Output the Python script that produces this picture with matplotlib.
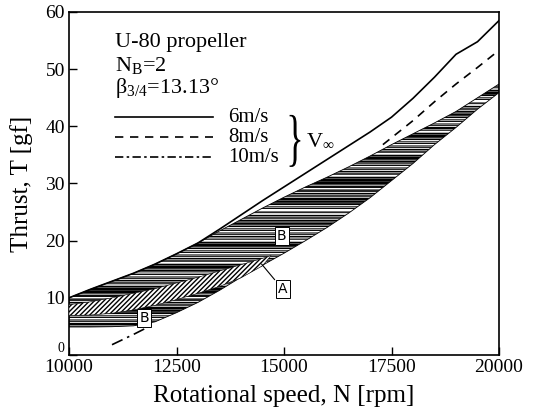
import numpy as np
import matplotlib
matplotlib.use("Agg")
import matplotlib.pyplot as plt
from matplotlib.patches import Polygon, PathPatch
from matplotlib.textpath import TextPath
from matplotlib.font_manager import FontProperties
from matplotlib.transforms import Affine2D, IdentityTransform

plt.rcParams['font.family'] = ['Liberation Serif', 'DejaVu Serif']
plt.rcParams['mathtext.fontset'] = 'custom'
plt.rcParams['mathtext.rm'] = 'Liberation Serif'
plt.rcParams['mathtext.it'] = 'Liberation Serif:italic'
plt.rcParams['hatch.linewidth'] = 1.0

# ---- data ----
n_solid = [10000, 10500, 11000, 11500, 12000, 12500, 13000, 13500, 14000, 14500, 15000,
           15500, 16000, 16500, 17000, 17500, 18000, 18500, 19000, 19500, 20000]
t_solid = [10.0, 11.5, 12.9, 14.3, 15.9, 17.7, 19.6, 22.0, 24.5, 27.0, 29.4,
           31.8, 34.2, 36.6, 39.0, 41.6, 44.9, 48.6, 52.6, 54.8, 58.5]

n_dash = [17300, 17500, 18000, 18500, 19000, 19500, 20000]
t_dash = [36.8, 38.0, 41.0, 44.3, 47.4, 50.3, 53.3]

n_dashdot = [11000, 11500, 12000]
t_dashdot = [1.8, 3.6, 5.5]

n_band = [10000, 10500, 11000, 11500, 12000, 12500, 13000, 13500, 14000, 14500, 15000,
          15500, 16000, 16500, 17000, 17500, 18000, 18500, 19000, 19500, 20000]
t_band_top = [10.0, 11.5, 12.9, 14.3, 15.9, 17.7, 19.6, 21.7, 23.7, 25.7, 27.6,
              29.4, 31.1, 32.9, 34.8, 36.8, 38.7, 40.6, 42.6, 45.0, 47.4]
t_band_bot = [4.9, 4.9, 4.95, 5.1, 5.8, 7.4, 9.2, 11.3, 13.6, 15.7, 17.8,
              20.0, 22.3, 24.8, 27.5, 30.5, 33.5, 36.8, 39.8, 43.0, 45.9]

n_a = [10000, 10500, 11000, 11500, 12000, 12500, 13000, 13500, 14000, 14500, 14700]
t_a_top = [8.8, 9.3, 10.0, 10.8, 11.6, 12.6, 13.6, 14.7, 15.8, 16.9, 17.4]
t_a_bot = [6.9, 7.0, 7.3, 7.9, 8.7, 9.7, 10.8, 12.0, 13.5, 15.6, 17.4]

x_ticks = [10000, 12500, 15000, 17500, 20000]
y_ticks = [0, 10, 20, 30, 40, 50, 60]

# ---- figure ----
fig = plt.figure(figsize=(5.37, 4.15), dpi=100)
ax = fig.add_axes([69/537, 60/415, 430/537, 343/415])
ax.set_xlim(10000, 20000)
ax.set_ylim(0, 60)

# striped band B (scan-like horizontal stripes of mixed greys)
band_xy = list(zip(n_band, t_band_top)) + list(zip(n_band[::-1], t_band_bot[::-1]))
ax.add_patch(Polygon(band_xy, closed=True, facecolor='none', edgecolor='black', lw=0.6, zorder=3))
stripe_pattern = [(0.0, 3), (0.35, 2), (0.0, 2), (0.72, 2), (1.0, 1), (0.25, 3), (0.55, 2),
                  (0.0, 2), (0.85, 2), (0.15, 2), (0.45, 3), (1.0, 2), (0.05, 2), (0.62, 2),
                  (0.3, 2), (0.92, 1), (0.0, 2), (0.5, 1), (0.2, 2)]
seq = []
for lev, cnt in stripe_pattern:
    seq += [lev] * cnt
nrows = 600
rows = np.array([seq[i % len(seq)] for i in range(nrows)])
img = np.tile(rows[:, None], (1, 4))
im = ax.imshow(img, extent=[10000, 20000, 0, 60], origin='lower', aspect='auto',
               cmap='gray', vmin=0, vmax=1, interpolation='nearest', zorder=2)
im.set_clip_path(Polygon(band_xy, closed=True, transform=ax.transData))

# hatched region A
a_xy = list(zip(n_a, t_a_top)) + list(zip(n_a[::-1], t_a_bot[::-1]))
ax.add_patch(Polygon(a_xy, closed=True, facecolor='white', edgecolor='black',
                     hatch='///////', lw=0.4, zorder=4))

# lines
ax.plot(n_solid, t_solid, color='black', lw=1.2, zorder=5)
ax.plot(n_dash, t_dash, color='black', lw=1.2, ls=(0, (5, 4)), zorder=5)
ax.plot(n_dashdot, t_dashdot, color='black', lw=1.2, ls=(0, (7, 3, 1.5, 3)), zorder=5)

# labels B / A
box = dict(boxstyle='square,pad=0.15', facecolor='white', edgecolor='black', lw=0.7)
ax.text(11745, 6.5, 'B', family='DejaVu Sans', fontsize=10, ha='center', va='center', bbox=box, zorder=7)
ax.text(14950, 20.8, 'B', family='DejaVu Sans', fontsize=10, ha='center', va='center', bbox=box, zorder=7)
ax.text(14970, 11.6, 'A', family='DejaVu Sans', fontsize=10, ha='center', va='center', bbox=box, zorder=7)
ax.plot([14780, 14480], [13.2, 15.9], color='black', lw=0.8, zorder=6)

# annotation text
ax.text(11070, 54.6, 'U-80 propeller', fontsize=16, va='center', ha='left')
ax.text(11070, 50.7, r'N$_\mathregular{B}$=2', fontsize=16, va='center', ha='left')
ax.text(11070, 46.7, r'β$_\mathregular{3/4}$=13.13°', fontsize=16, va='center', ha='left')

leg_y = [41.6, 38.1, 34.6]
leg_lab = ['6m/s', '8m/s', '10m/s']
leg_ls = ['-', (0, (5, 4)), (0, (5, 2, 1.5, 2))]
for yy, lab, ls in zip(leg_y, leg_lab, leg_ls):
    ax.plot([11070, 13350], [yy, yy], color='black', lw=1.2, ls=ls)
    ax.text(13700, yy, lab, fontsize=15, va='center', ha='left')

# curly brace, stretched to span the three legend rows
tp = TextPath((0, 0), '}', size=1, prop=FontProperties(family='Liberation Serif'))
bb = tp.get_extents()
fig.canvas.draw()
(bx0, by0) = ax.transData.transform((15130, 32.9))
(bx1, by1) = ax.transData.transform((15380, 42.0))
tr = (Affine2D().translate(-bb.x0, -bb.y0)
      .scale((bx1 - bx0) / bb.width, (by1 - by0) / bb.height)
      .translate(bx0, by0))
ax.add_patch(PathPatch(tr.transform_path(tp), transform=IdentityTransform(),
                       facecolor='black', edgecolor='none', clip_on=False))
ax.text(15500, 37.6, r'V$_\infty$', fontsize=16, va='center', ha='left')

# axes styling
for s in ax.spines.values():
    s.set_linewidth(1.2)
ax.set_xticks(x_ticks)
ax.set_yticks(y_ticks)
ax.tick_params(direction='in', length=6, width=1.0, labelsize=14, top=False, right=False, pad=3)
ax.set_xticklabels([str(v) for v in x_ticks])
ylabs = ax.set_yticklabels([str(v) for v in y_ticks])
ylabs[0].set_fontsize(10)
ylabs[0].set_va('bottom')
ax.set_xlabel('Rotational speed, N [rpm]', fontsize=18, labelpad=6)
ax.set_ylabel('Thrust, T [gf]', fontsize=18, labelpad=9)

fig.savefig('out.png', dpi=100)
